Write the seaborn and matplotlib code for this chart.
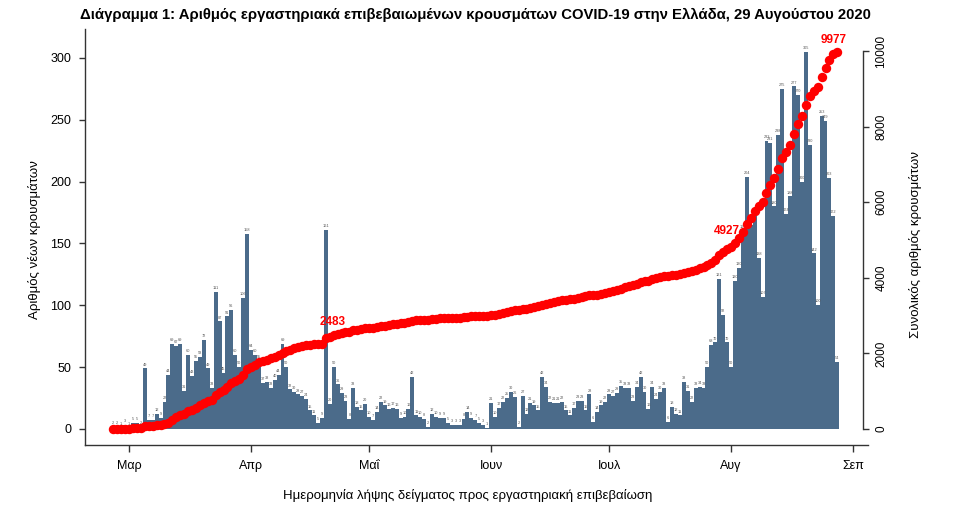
import numpy as np
import pandas as pd
import matplotlib
matplotlib.use("Agg")
import matplotlib.pyplot as plt
from matplotlib import font_manager
import seaborn as sns

# ---------------- data ----------------
first_day = "2020-02-26"
last_day = "2020-08-28"
new_feb = [2, 2, 1, 3]
new_mar = [1, 5, 5, 2, 49, 7, 7, 12, 9, 22, 44, 69, 67, 69, 31, 60, 43, 55, 58, 72,
           49, 33, 111, 87, 45, 91, 96, 60, 50, 106, 158]
new_apr = [64, 60, 55, 37, 38, 33, 40, 44, 69, 50, 32, 30, 28, 27, 24, 15, 11, 5, 9, 161,
           20, 50, 36, 29, 23, 8, 33, 18, 15, 20]
new_may = [10, 7, 14, 22, 19, 16, 17, 16, 9, 10, 16, 42, 11, 10, 8, 2, 12, 10, 9, 9,
           5, 3, 3, 3, 8, 14, 9, 7, 5, 3, 1]
new_jun = [21, 10, 17, 22, 25, 30, 26, 2, 27, 12, 21, 19, 15, 42, 34, 22, 21, 21, 22, 15,
           11, 17, 23, 23, 15, 28, 6, 14, 19, 22]
new_jul = [28, 27, 29, 35, 33, 33, 23, 34, 42, 30, 16, 34, 24, 30, 33, 6, 18, 12, 11, 38,
           31, 22, 33, 34, 33, 50, 68, 70, 121, 92, 70]
new_aug = [50, 120, 130, 160, 204, 165, 172, 138, 107, 233, 231, 180, 238, 275, 174, 188,
           277, 270, 200, 305, 230, 142, 100, 253, 249, 203, 172, 54]
labelled_totals = [2483, 4927, 9977]
month_starts = ["2020-03-01", "2020-04-01", "2020-05-01", "2020-06-01",
                "2020-07-01", "2020-08-01", "2020-09-01"]
month_labels = ["Μαρ", "Απρ", "Μαΐ", "Ιουν", "Ιουλ", "Αυγ", "Σεπ"]
left_ticks = [0, 50, 100, 150, 200, 250, 300]
right_ticks = [0, 2000, 4000, 6000, 8000, 10000]

title = ("Διάγραμμα 1: Αριθμός εργαστηριακά επιβεβαιωμένων κρουσμάτων COVID-19 "
         "στην Ελλάδα, 29 Αυγούστου 2020")
xlabel = "Ημερομηνία λήψης δείγματος προς εργαστηριακή επιβεβαίωση"
ylabel_left = "Αριθμός νέων κρουσμάτων"
ylabel_right = "Συνολικός αριθμός κρουσμάτων"

# ---------------- frame ----------------
dates = pd.date_range(first_day, last_day, freq="D")
new_cases = np.array(new_feb + new_mar + new_apr + new_may + new_jun + new_jul + new_aug)
ref = pd.Timestamp("2020-03-01")
df = pd.DataFrame({"date": dates, "new": new_cases})
df["day"] = (df["date"] - ref).dt.days
df["total"] = np.cumsum(df["new"].values)
tick_pos = [(pd.Timestamp(m) - ref).days for m in month_starts]

# ---------------- style ----------------
names = {f.name for f in font_manager.fontManager.ttflist}
FONT = "Liberation Sans Narrow" if "Liberation Sans Narrow" in names else "Liberation Sans"
plt.rcParams["font.family"] = [FONT, "DejaVu Sans"]
BAR = "#4b6b8a"
AXC = "#333333"

W, H = 980, 520
fig = plt.figure(figsize=(W / 100, H / 100), dpi=100)
fig.patch.set_facecolor("white")
ax = fig.add_axes([85 / W, 1 - 445 / H, 783 / W, 416 / H])

sns.barplot(data=df, x="day", y="new", native_scale=True, width=1.0, color=BAR,
            saturation=1, errorbar=None, linewidth=0, ax=ax)
for d, v in zip(df["day"], df["new"]):
    ax.text(d, v + 1.5, str(v), fontsize=2.8, ha="center", va="bottom", color="#555555")

ax.set_xlim(-11.2, 187.8)
ax.set_ylim(-12.94, 323.4)
ax.set_xticks(tick_pos)
ax.set_xticklabels(month_labels)
ax.set_yticks(left_ticks)
ax.set_yticklabels([str(t) for t in left_ticks])
ax.set_xlabel("")
ax.set_ylabel("")
for s in ["top", "right"]:
    ax.spines[s].set_visible(False)
for s in ["left", "bottom"]:
    ax.spines[s].set_color(AXC)
    ax.spines[s].set_linewidth(1.0)
ax.tick_params(axis="x", length=5, width=1, color=AXC, pad=6, labelsize=9)
ax.tick_params(axis="y", length=4, width=1, color=AXC, pad=6, labelsize=9)

ax2 = ax.twinx()
sns.scatterplot(data=df, x="day", y="total", color="#ff0000", s=46, linewidth=0,
                ax=ax2, legend=False, zorder=3)
ax2.set_ylim(-423, 10582)
ax2.set_xlim(-11.2, 187.8)
offsets = {2483: (-1, 5), 4927: (-6, 4), 9977: (-3, 4)}
for v in labelled_totals:
    idx = int(np.argmin(np.abs(df["total"].values - v)))
    ax2.annotate(str(v), (df["day"].iloc[idx], df["total"].iloc[idx]), xytext=offsets[v],
                 textcoords="offset points", ha="center", va="bottom", color="#ff0000",
                 fontweight="bold", fontsize=8.5, zorder=2)
for s in ["top", "left", "bottom"]:
    ax2.spines[s].set_visible(False)
ax2.spines["right"].set_position(("axes", (863 - 85) / 783))
ax2.spines["right"].set_bounds(0, 10000)
ax2.spines["right"].set_color(AXC)
ax2.spines["right"].set_linewidth(1.0)
ax2.set_yticks(right_ticks)
ax2.set_yticklabels([str(t) for t in right_ticks], rotation=90, va="center")
ax2.tick_params(axis="y", length=4, width=1, color=AXC, pad=5, labelsize=8.5)
ax2.set_ylabel("")
ax2.set_xlabel("")

fig.text(475 / W, 1 - 15 / H, title, ha="center", va="center", fontweight="bold",
         fontsize=10.7)
fig.text(468 / W, 1 - 496 / H, xlabel, ha="center", va="center", fontsize=9.5)
fig.text(35 / W, 1 - 240 / H, ylabel_left, ha="center", va="center", rotation=90,
         fontsize=9.5)
fig.text(915 / W, 1 - 245 / H, ylabel_right, ha="center", va="center", rotation=90,
         fontsize=9.5)

fig.savefig("out.png", dpi=100)
